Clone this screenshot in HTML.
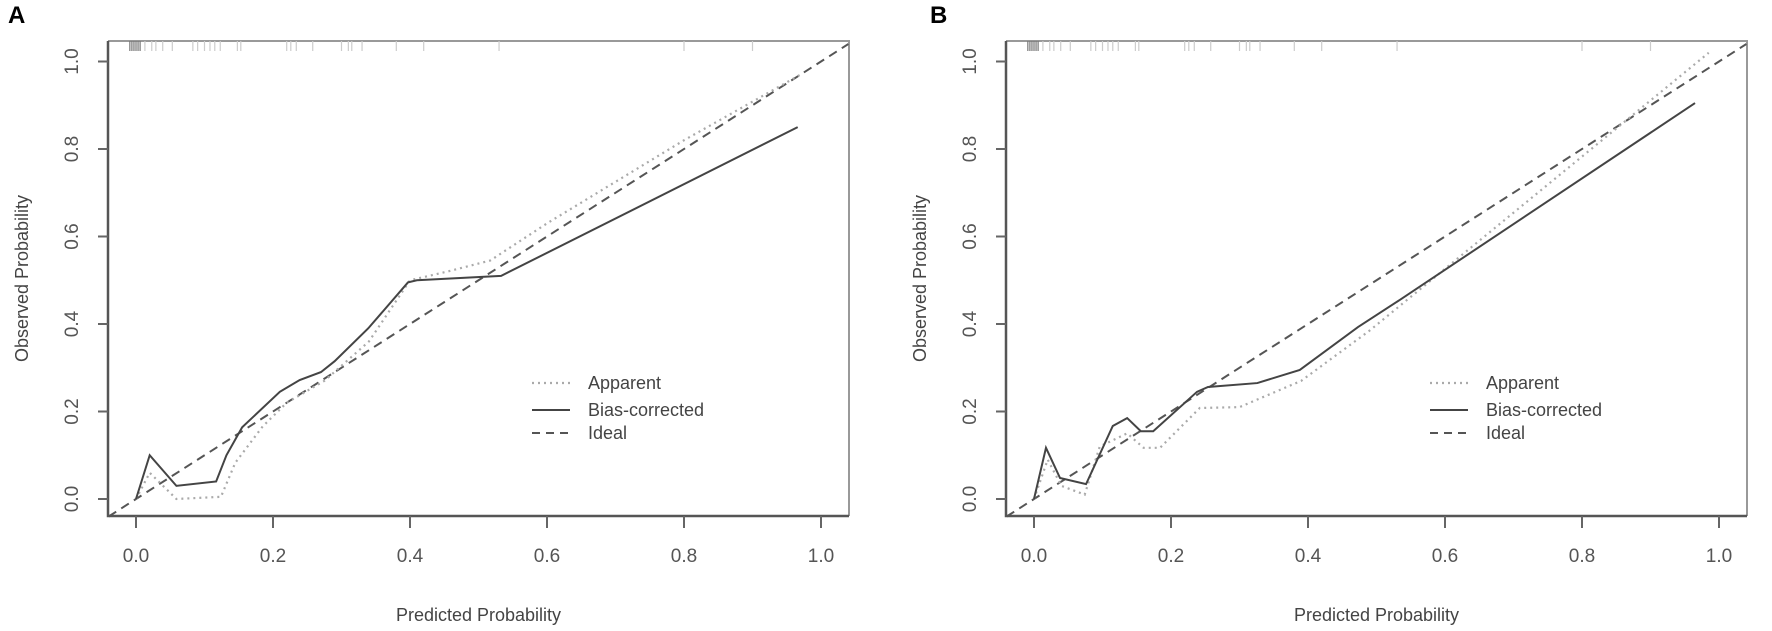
<!DOCTYPE html>
<html><head><meta charset="utf-8"><style>
body{margin:0;background:#fff;}
svg{display:block;font-family:"Liberation Sans",Arial,sans-serif;}
</style></head><body>
<svg id="chart" width="1772" height="631" viewBox="0 0 1772 631"></svg>
<script>
const xTicks=[0,0.2,0.4,0.6,0.8,1.0];
const yTicks=[0,0.2,0.4,0.6,0.8,1.0];
const tickLabels=["0.0","0.2","0.4","0.6","0.8","1.0"];
const legendLabels=["Apparent","Bias-corrected","Ideal"];
const panelLabels=["A","B"];
const ideal=[[-0.04,-0.04],[1.04,1.04]];
const aBiasX=[0,0.02,0.059,0.117,0.132,0.155,0.21,0.239,0.27,0.29,0.339,0.397,0.41,0.533,0.966];
const aBiasY=[0,0.10,0.03,0.04,0.10,0.164,0.245,0.272,0.29,0.315,0.39,0.495,0.50,0.51,0.85];
const aAppX=[0,0.02,0.059,0.124,0.145,0.185,0.22,0.275,0.34,0.40,0.455,0.517,0.6,0.8,0.97];
const aAppY=[0,0.06,0.0,0.005,0.083,0.166,0.22,0.27,0.36,0.50,0.52,0.545,0.63,0.82,0.97];
const bBiasX=[0,0.0175,0.038,0.076,0.115,0.136,0.156,0.174,0.238,0.254,0.326,0.388,0.473,0.534,0.965];
const bBiasY=[0,0.117,0.048,0.034,0.167,0.185,0.155,0.155,0.245,0.256,0.265,0.295,0.393,0.455,0.905];
const bAppX=[0,0.02,0.04,0.074,0.096,0.136,0.16,0.184,0.242,0.30,0.39,0.49,0.985];
const bAppY=[0,0.09,0.03,0.01,0.12,0.15,0.117,0.117,0.208,0.21,0.27,0.385,1.02];
const rugVals=[-0.009,-0.006,-0.003,0,0.003,0.006,0.013,0.023,0.029,0.039,0.053,0.083,0.09,0.1,0.108,0.115,0.123,0.148,0.153,0.22,0.226,0.234,0.258,0.3,0.31,0.315,0.33,0.38,0.42,0.53,0.8,0.9];

const NS="http://www.w3.org/2000/svg";
const svg=document.getElementById('chart');
function el(tag,attrs,parent){const e=document.createElementNS(NS,tag);for(const k in attrs)e.setAttribute(k,attrs[k]);(parent||svg).appendChild(e);return e;}

function panel(idx,left,labelX,bias,app){
  const x0=left+28, sx=685, y0=499, sy=437.5;
  const X=v=>x0+v*sx, Y=v=>y0-v*sy;
  const L=left, R=left+741, T=41, B=516;
  const g=el('g',{});
  
  
  const t=el('text',{x:labelX,y:23,'font-size':24,'font-weight':'bold',fill:'#000'},g);
  
  
  t.textContent=panelLabels[idx];
  const box=el('path',{d:`M${L},${T}H${R}V${B}`,fill:'none',stroke:'#999','stroke-width':2},g);
  
  
  const ax=el('path',{d:`M${L},${T}V${B}H${R}`,fill:'none',stroke:'#555','stroke-width':2.5},g);
  
  
  xTicks.forEach((v,i)=>{
    el('line',{x1:X(v),x2:X(v),y1:B,y2:B+12,stroke:'#666','stroke-width':2},g);
    const tx=el('text',{x:X(v),y:562,'font-size':19,fill:'#555','text-anchor':'middle'},g);
    
    
    tx.textContent=tickLabels[i];
  });
  yTicks.forEach((v,i)=>{
    el('line',{x1:L,x2:L-10,y1:Y(v),y2:Y(v),stroke:'#666','stroke-width':2},g);
    const ty=el('text',{x:0,y:0,'font-size':19,fill:'#555','text-anchor':'middle',transform:`translate(${L-30},${Y(v)}) rotate(-90)`},g);
    
    
    ty.textContent=tickLabels[i];
  });
  const xt=el('text',{x:(L+R)/2,y:621,'font-size':18,fill:'#444','text-anchor':'middle'},g);
  
  
  xt.textContent='Predicted Probability';
  const yt=el('text',{x:0,y:0,'font-size':18,fill:'#444','text-anchor':'middle',transform:`translate(${L-80},${(T+B)/2}) rotate(-90)`},g);
  
  
  yt.textContent='Observed Probability';
  rugVals.forEach(v=>{
    const r=el('line',{x1:X(v),x2:X(v),y1:T,y2:T+10,'stroke':v<0.01?'#777':'#ccc','stroke-width':1.2},g);
    
    
  });
  const pts=(xs,ys)=>xs.map((v,i)=>X(v)+','+Y(ys[i])).join(' ');
  const id=el('polyline',{points:pts(ideal.map(p=>p[0]),ideal.map(p=>p[1])),fill:'none',stroke:'#555','stroke-width':2,'stroke-dasharray':'9,6'},g);
  
  
  const ap=el('polyline',{points:pts(app[0],app[1]),fill:'none',stroke:'#aaa','stroke-width':2.2,'stroke-dasharray':'2,4'},g);
  
  
  const bc=el('polyline',{points:pts(bias[0],bias[1]),fill:'none',stroke:'#444','stroke-width':2},g);
  
  
  const lg=el('g',{},g);
  
  
  const lys=[383,410,433];
  const styles=[{stroke:'#aaa','stroke-dasharray':'2,4','stroke-width':2.2},{stroke:'#444','stroke-width':2},{stroke:'#555','stroke-dasharray':'8,6','stroke-width':2}];
  legendLabels.forEach((lab,i)=>{
    const s=Object.assign({x1:left+424,x2:left+462,y1:lys[i],y2:lys[i]},styles[i]);
    el('line',s,lg);
    const tt=el('text',{x:left+480,y:lys[i]+6,'font-size':18,fill:'#444'},lg);
    
    
    tt.textContent=lab;
  });
}
panel(0,108,8,[aBiasX,aBiasY],[aAppX,aAppY]);
panel(1,1006,930,[bBiasX,bBiasY],[bAppX,bAppY]);
</script>
</body></html>
